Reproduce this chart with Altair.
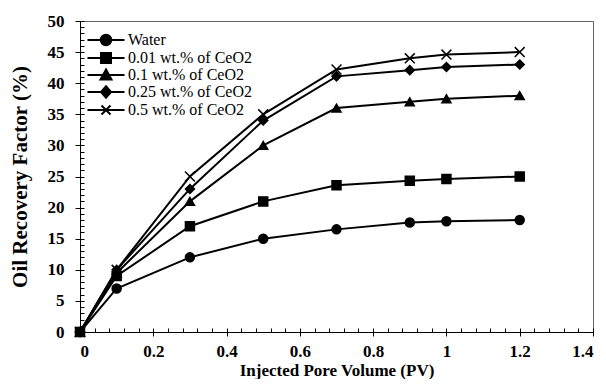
import altair as alt
import pandas as pd

pv = [0, 0.1, 0.3, 0.5, 0.7, 0.9, 1.0, 1.2]
series = ["Water", "0.01 wt.% of CeO2", "0.1 wt.% of CeO2", "0.25 wt.% of CeO2", "0.5 wt.% of CeO2"]
water = [0, 7, 12, 15, 16.5, 17.6, 17.8, 18]
ceo2_001 = [0, 9, 17, 21, 23.6, 24.3, 24.6, 25]
ceo2_01 = [0, 9.5, 21, 30, 36, 37, 37.5, 38]
ceo2_025 = [0, 10, 23, 34, 41.1, 42.1, 42.6, 43]
ceo2_05 = [0, 10, 25, 35, 42.2, 44, 44.6, 45]

x_major = [0, 0.2, 0.4, 0.6, 0.8, 1, 1.2, 1.4]
x_minor = [round(i * 0.04, 2) for i in range(36)]
y_major = [0, 5, 10, 15, 20, 25, 30, 35, 40, 45, 50]
y_minor = list(range(51))

rows = []
for name, vals in zip(series, [water, ceo2_001, ceo2_01, ceo2_025, ceo2_05]):
    for x, y in zip(pv, vals):
        rows.append({"pv": x, "rf": y, "series": name})
df = pd.DataFrame(rows)

FONT = "Liberation Serif, Times New Roman, Times, DejaVu Serif, serif"

point_shapes = [
    "circle",
    "square",
    "triangle-up",
    "diamond",
    "M-1.1,-1.1L1.1,1.1M-1.1,1.1L1.1,-1.1",
]
legend_shapes = [
    "M-3.7,0H3.7M1.05,0A1.05,1.05,0,1,1,-1.05,0A1.05,1.05,0,1,1,1.05,0Z",
    "M-3.7,0H3.7M-1,-1H1V1H-1Z",
    "M-3.7,0H3.7M0,-1.1L1.1,0.9H-1.1Z",
    "M-3.7,0H3.7M0,-1.15L1,0L0,1.15L-1,0Z",
    "M-3.7,0H3.7M-0.9,-0.9L0.9,0.9M-0.9,0.9L0.9,-0.9",
]

xscale = alt.Scale(domain=[0, 1.4], nice=False)
yscale = alt.Scale(domain=[0, 50], nice=False)

main_x_axis = alt.Axis(values=x_major, format="~g", title="Injected Pore Volume (PV)",
                       orient="bottom", grid=False, tickSize=4, tickColor="black",
                       domainColor="black", labelFont=FONT, labelFontSize=17,
                       labelFontWeight="bold", labelColor="black", labelPadding=7,
                       titleFont=FONT, titleFontSize=17, titleFontWeight="bold",
                       titleColor="black", titlePadding=3)
main_y_axis = alt.Axis(values=y_major, title="Oil Recovery Factor (%)", orient="left",
                       grid=False, tickSize=5, tickColor="black", domainColor="black",
                       labelFont=FONT, labelFontSize=17, labelFontWeight="bold",
                       labelColor="black", labelPadding=11, titleFont=FONT,
                       titleFontSize=21, titleFontWeight="bold", titleColor="black",
                       titlePadding=17)

lines = alt.Chart(df).mark_line(color="black", strokeWidth=2).encode(
    x=alt.X("pv:Q", scale=xscale, axis=main_x_axis),
    y=alt.Y("rf:Q", scale=yscale, axis=main_y_axis),
    detail="series:N",
)

minor = alt.Chart(df).mark_line(opacity=0).encode(
    x=alt.X("pv:Q", scale=xscale,
            axis=alt.Axis(values=x_minor, orient="bottom", offset=-4, tickSize=4,
                          labels=False, domain=False, grid=False, title=None,
                          tickColor="black")),
    y=alt.Y("rf:Q", scale=yscale,
            axis=alt.Axis(values=y_minor, orient="left", offset=-4, tickSize=4,
                          labels=False, domain=False, grid=False, title=None,
                          tickColor="black")),
    detail="series:N",
)

points = alt.Chart(df).mark_point(filled=True, color="black", stroke="black",
                                  strokeWidth=1.5, size=81, opacity=1).encode(
    x=alt.X("pv:Q", scale=xscale, axis=None),
    y=alt.Y("rf:Q", scale=yscale, axis=None),
    shape=alt.Shape("series:N", scale=alt.Scale(domain=series, range=point_shapes),
                    legend=None),
)

legend_def = alt.Legend(title=None, orient="none", legendX=18, legendY=11,
                        symbolSize=100, symbolOpacity=1,
                        symbolStrokeWidth=2, labelFont=FONT, labelFontSize=16,
                        labelColor="black", labelOffset=14, rowPadding=-2,
                        padding=0, labelLimit=300)

legend_layer = alt.Chart(df).transform_filter("false").mark_point(
    filled=False, fill="black", stroke="black", strokeWidth=2, size=100, opacity=1
).encode(
    x=alt.X("pv:Q", scale=xscale, axis=None),
    y=alt.Y("rf:Q", scale=yscale, axis=None),
    shape=alt.Shape("series:N",
                    scale=alt.Scale(domain=series, range=legend_shapes),
                    legend=legend_def),
)

chart = alt.layer(lines, minor, points, legend_layer).resolve_scale(
    shape="independent"
).resolve_axis(x="independent", y="independent").properties(
    width=513,
    height=311,
    autosize=alt.AutoSizeParams(type="none"),
    padding={"left": 72, "top": 13, "right": 5, "bottom": 47},
    background="white",
).configure_view(stroke="#666666", strokeWidth=1)

chart.save("out.html", embed_options={"renderer": "svg", "actions": False})
